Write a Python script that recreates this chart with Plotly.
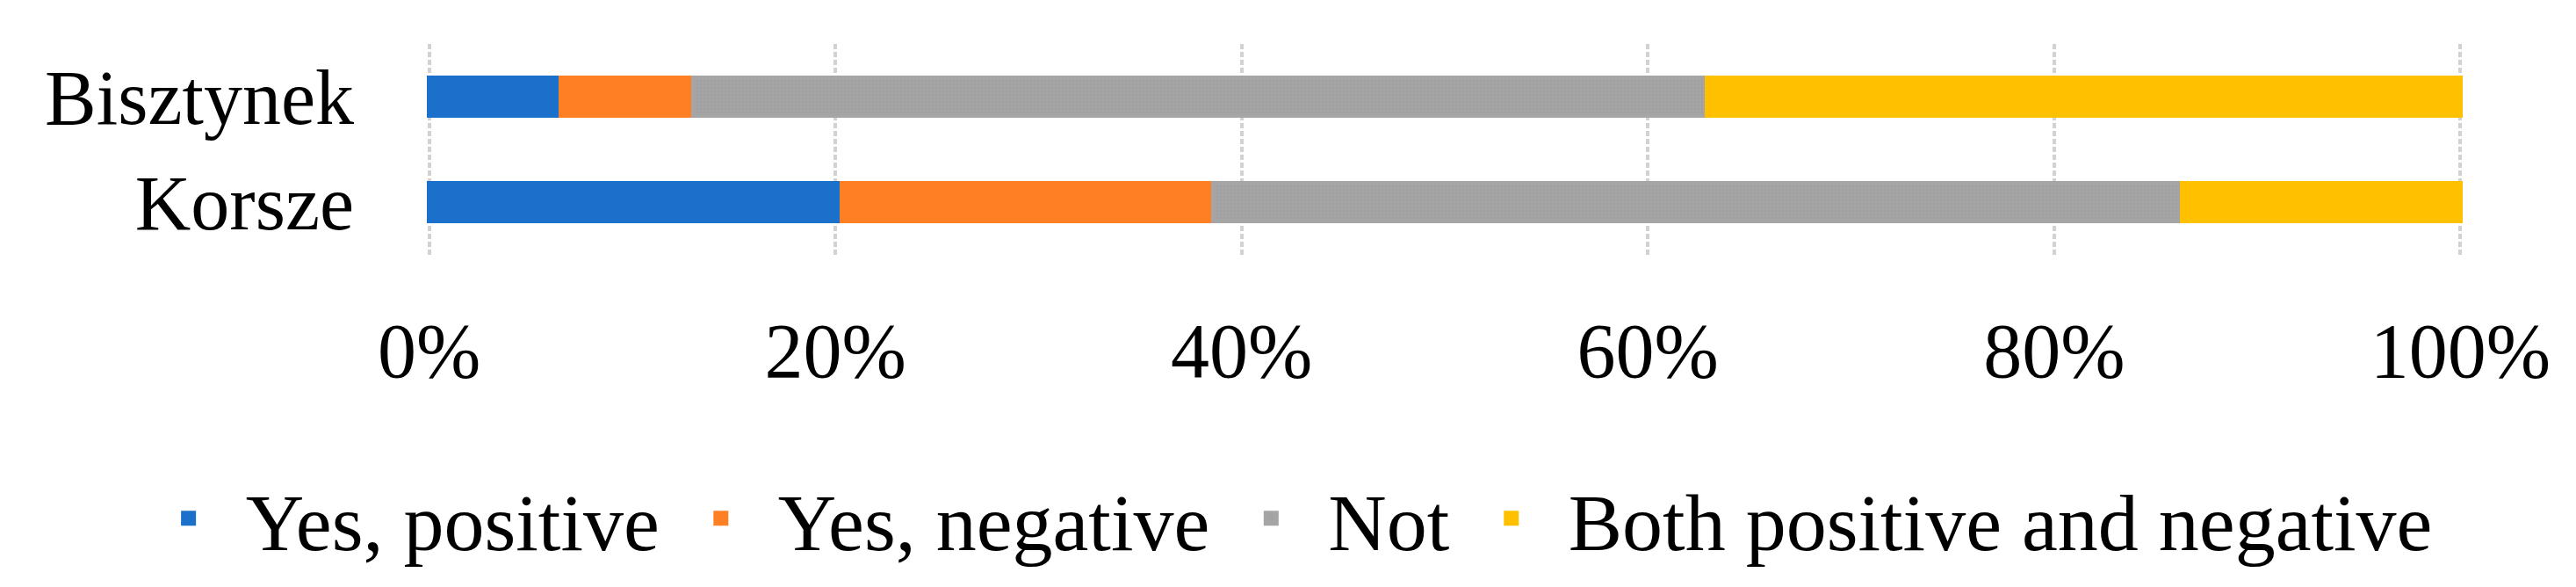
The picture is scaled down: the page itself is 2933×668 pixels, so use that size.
import plotly.graph_objects as go

towns = ["Bisztynek", "Korsze"]
series = ["Yes, positive", "Yes, negative", "Not", "Both positive and negative"]
# share of answers, %
yes_positive = [6.5, 20.3]
yes_negative = [6.5, 18.3]
not_answer = [49.9, 47.7]
both = [37.1, 13.7]
x_ticks = [0, 20, 40, 60, 80, 100]
x_tick_labels = ["0%", "20%", "40%", "60%", "80%", "100%"]

values = [yes_positive, yes_negative, not_answer, both]
colors = ["#1a70cb", "#ff7f24", "#a5a5a5", "#ffc000"]

FONT = "Liberation Serif"

fig = go.Figure()
for name, vals, col in zip(series, values, colors):
    # same-colour outline, mainly so the legend swatch gets bigger
    marker = dict(color=col, line=dict(width=5, color=col))
    if name == "Not":
        marker["pattern"] = dict(shape=".", fgcolor="#979797", bgcolor=col,
                                 size=4, solidity=0.3)
    fig.add_trace(go.Bar(
        name=name, y=towns, x=vals, orientation="h", marker=marker,
    ))

fig.update_layout(
    barmode="stack",
    bargap=0.64,
    width=2933,
    height=668,
    autosize=False,
    margin=dict(l=476, r=135, t=42, b=386, autoexpand=False),
    plot_bgcolor="white",
    paper_bgcolor="white",
    font=dict(family=FONT, size=88, color="black"),
    showlegend=True,
    # anchored left of the plot area so it may run wider than the plot
    legend=dict(
        orientation="h",
        x=-0.144, xanchor="left",
        y=-1.25, yanchor="middle",
        font=dict(family=FONT, size=92, color="black"),
        itemwidth=120,
        traceorder="normal",
    ),
    xaxis=dict(
        range=[-0.2, 100.2],
        tickvals=x_ticks,
        ticktext=x_tick_labels,
        tickangle=0,
        showgrid=True,
        gridcolor="#d2d2d2",
        gridwidth=4,
        griddash="6px,3px",
        zeroline=False,
        showline=False,
        ticks="",
        ticklabelstandoff=50,
    ),
    yaxis=dict(
        categoryorder="array",
        categoryarray=towns[::-1],
        showgrid=False,
        zeroline=False,
        showline=False,
        ticks="",
        ticklabelstandoff=80,
    ),
)

fig.write_html("out.html")
